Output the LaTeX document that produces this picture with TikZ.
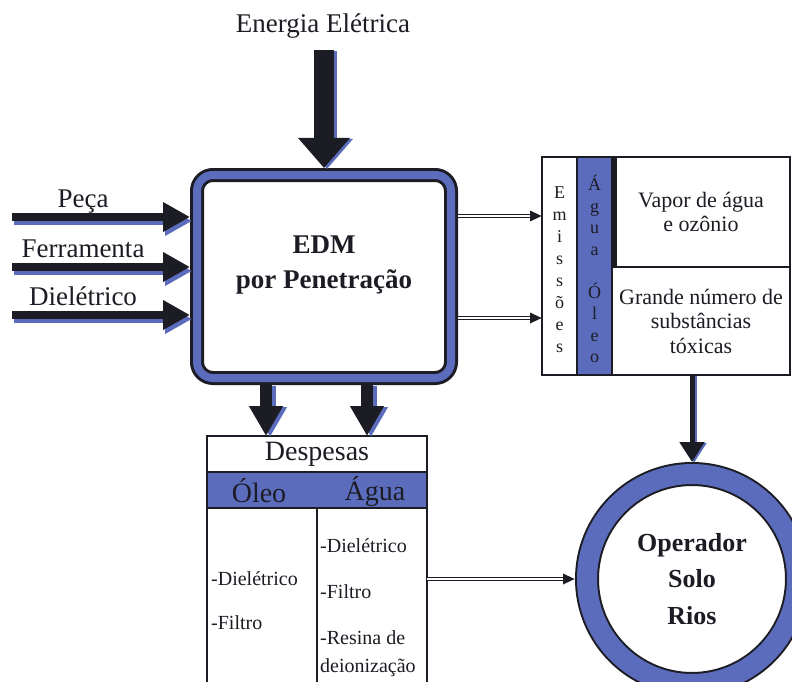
\documentclass[tikz,border=0pt]{standalone}
\usepackage{fontspec}
\setmainfont{Liberation Serif}
\usetikzlibrary{arrows.meta,calc,positioning}
\definecolor{edmblue}{HTML}{5C6CBD}
\definecolor{ink}{HTML}{1C1C24}
\newcommand{\setfs}[2]{\fontsize{#1}{#2}\selectfont}

\begin{document}
\begin{tikzpicture}[x=1pt, y=-1pt, ink,
    box/.style={draw=ink, line width=1.2pt, fill=white, inner sep=0pt, outer sep=0pt},
    sh/.style={edmblue, transform canvas={shift={#1}}},
    fatin/.style={ink, line width=8pt, -{Triangle[length=27pt,width=28pt]}},
    fattop/.style={ink, line width=20pt, -{Triangle[length=30pt,width=50pt]}},
    fatdown/.style={ink, line width=12pt, -{Triangle[length=30pt,width=32pt]}},
    thindown/.style={ink, line width=5pt, -{Triangle[length=20pt,width=24pt]}},
    dbl/.style={ink, line width=3.6pt, -{Triangle[length=12pt,width=10pt]}},
    lbl/.style={font=\setfs{27}{30}, anchor=base},
    itm/.style={font=\setfs{20}{24}, anchor=base west, inner sep=0pt}]
  \fill[white] (0,0) rectangle (792,682);
  \useasboundingbox (0,0) rectangle (792,682);
  \clip (0,0) rectangle (792,682);

  % processo central
  \node[draw=ink, line width=3pt, double=edmblue, double distance=8pt, rounded corners=16pt,
        fill=white, minimum width=254pt, minimum height=203pt, outer sep=7pt] (edm) at (324,276.5) {};
  \node[font=\bfseries\setfs{27}{35}, align=center] (edmtxt) at (324,265) {EDM\\por Penetração};

  % entradas
  \node[lbl] (energia) at (323,33) {Energia Elétrica};
  \coordinate (enin) at (324,50);
  \draw[fattop, sh={(3pt,-1pt)}] (enin) -- (edm.north);
  \draw[fattop] (enin) -- (edm.north);
  \foreach \y/\nm/\txt in {217/peca/Peça, 267/ferr/Ferramenta, 315/diel/Dielétrico} {
    \coordinate (in\nm) at (12,\y);
    \node[lbl] (l\nm) at (83,\y-10) {\txt};
    \draw[fatin, sh={(2pt,-4pt)}] (in\nm) -- (in\nm -| edm.west);
    \draw[fatin] (in\nm) -- (in\nm -| edm.west);
  }

  % emissoes
  \node[box, minimum width=35pt, minimum height=218pt] (emis) at (559.5,266) {};
  \node[box, fill=edmblue, minimum width=35pt, minimum height=218pt] (agua) at (594.5,266) {};
  \node[box, minimum width=178pt, minimum height=110pt, font=\setfs{22}{24}, align=center] (vapor) at (701,212) {Vapor de água\\e ozônio};
  \node[box, minimum width=178pt, minimum height=108pt, font=\setfs{22}{24.5}, align=center] (grande) at (701,321) {Grande número de\\substâncias\\tóxicas};
  \draw[ink, line width=5pt] ([xshift=2.5pt]vapor.north west) -- ([xshift=2.5pt]vapor.south west);
  \node[font=\setfs{18}{22}, align=center] (emistxt) at (559.5,270) {E\\m\\i\\s\\s\\õ\\e\\s};
  \node[font=\setfs{18}{21.5}, align=center] (aguatxt) at (594.5,269) {Á\\g\\u\\a\\[21.5pt]Ó\\l\\e\\o};
  \foreach \y in {216,318} {
    \draw[dbl] (edm.east |- 0,\y) -- (emis.west |- 0,\y);
    \draw[white, line width=1.3pt, shorten >=12pt] (edm.east |- 0,\y) -- (emis.west |- 0,\y);
  }

  % despesas
  \node[box, line width=2.5pt, minimum width=220pt, minimum height=36pt, font=\setfs{28}{30}] (desp) at (317,454) {Despesas};
  \node[box, line width=2.5pt, fill=edmblue, minimum width=220pt, minimum height=36pt] (dhead) at (317,490) {};
  \node[font=\setfs{28}{30}] (toleo) at (259,491) {Óleo};
  \node[font=\setfs{28}{30}] (tagua) at (375,491) {Água};
  \node[box, line width=2.5pt, minimum width=110pt, minimum height=200pt, anchor=north west] (colo) at (207,508) {};
  \node[box, line width=2.5pt, minimum width=110pt, minimum height=200pt, anchor=north west] (cola) at (317,508) {};
  \foreach \y/\t [count=\i] in {585/-Dielétrico, 629/-Filtro}
    \node[itm] (o\i) at (211,\y) {\t};
  \foreach \y/\t [count=\i] in {552/-Dielétrico, 598/-Filtro, 644/-Resina de, 672/deionização}
    \node[itm] (a\i) at (320,\y) {\t};
  \coordinate (xoil) at (266,0);
  \coordinate (xwat) at (367,0);
  \foreach \c in {xoil,xwat} {
    \draw[fatdown, sh={(4pt,-1pt)}] (\c |- edm.south) -- (\c |- desp.north);
    \draw[fatdown] (\c |- edm.south) -- (\c |- desp.north);
  }

  % receptores
  \node[circle, draw=ink, line width=2pt, double=edmblue, double distance=20pt, fill=white,
        minimum size=210pt, outer sep=12pt, font=\bfseries\setfs{26}{36.5}, align=center] (rec) at (692,579) {Operador\\Solo\\Rios};
  \coordinate (xrec) at (692,0);
  \draw[thindown, sh={(2pt,-1pt)}] (xrec |- grande.south) -- (rec.north);
  \draw[thindown] (xrec |- grande.south) -- (rec.north);
  \draw[dbl] (cola.east |- rec.west) -- (rec.west);
  \draw[white, line width=1.3pt, shorten >=12pt] (cola.east |- rec.west) -- (rec.west);
\end{tikzpicture}
\end{document}
